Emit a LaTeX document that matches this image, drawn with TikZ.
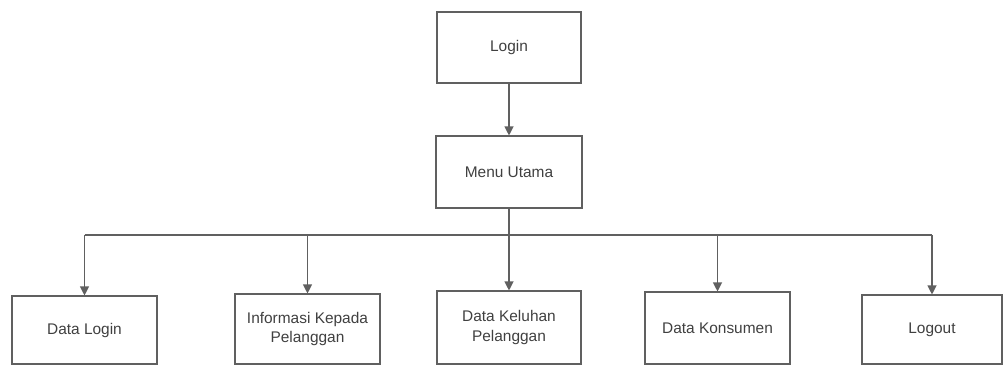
\documentclass[tikz,border=0pt]{standalone}
\usepackage{fontspec}
\setmainfont{Liberation Sans}
\usetikzlibrary{arrows.meta}
\definecolor{linegray}{HTML}{606060}
\definecolor{textgray}{HTML}{404040}
\begin{document}
\begin{tikzpicture}[x=1bp,y=-1bp,
  box/.style={draw=linegray, line width=1.1bp, inner sep=0pt, align=center,
    font=\fontsize{15.5}{20}\selectfont, text=textgray},
  conn/.style={draw=linegray, line width=1.1bp},
  arr/.style={conn, -{Triangle[width=9bp,length=9bp]}}]
\useasboundingbox (0,0) rectangle (1004,366);
\node[box, minimum width=144bp, minimum height=71bp] (login) at (509,47.5) {Login};
\node[box, minimum width=146bp, minimum height=72bp] (menu) at (509,172) {Menu Utama};
\node[box, minimum width=145bp, minimum height=68bp] (dlogin) at (84.5,330) {Data Login};
\node[box, minimum width=145bp, minimum height=70bp] (info) at (307.5,329) {Informasi Kepada\\Pelanggan};
\node[box, minimum width=144bp, minimum height=73bp] (keluhan) at (509,327.5) {Data Keluhan\\Pelanggan};
\node[box, minimum width=145bp, minimum height=72bp] (konsumen) at (717.5,328) {Data Konsumen};
\node[box, minimum width=140bp, minimum height=69bp] (logout) at (932,329.5) {Logout};
\coordinate (busl) at (84.5,235);
\coordinate (busr) at (932,235);
\draw[arr] (login) -- (menu);
\draw[arr] (menu) -- (keluhan);
\draw[conn] (busl) -- (busr);
\draw[arr] (busl) -- (dlogin.north);
\draw[arr] (info.north |- busl) -- (info.north);
\draw[arr] (konsumen.north |- busl) -- (konsumen.north);
\draw[arr] (busr) -- (logout.north);
\end{tikzpicture}
\end{document}
